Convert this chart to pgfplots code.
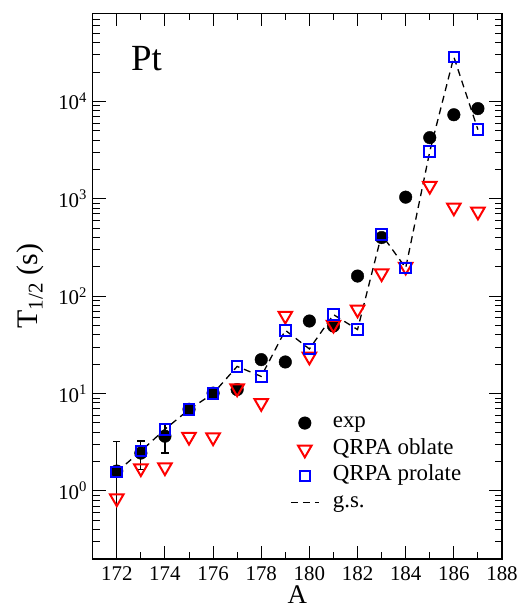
\documentclass[border=0pt]{standalone}
\usepackage{fontspec}
\setmainfont{Liberation Serif}
\usepackage{pgfplots}
\usepackage{pgfplotstable}
\pgfplotsset{compat=1.18}

% half-lives (s) against mass number A
\pgfplotstableread{
A T ep em
172 1.6 1.6 1.55
173 2.45 0.8 0.8
174 3.65 1.2 1.2
175 6.9 0 0
176 10.1 0 0
177 11 0 0
178 22.3 0 0
179 21.1 0 0
180 55.6 0 0
181 49.4 0 0
182 161 0 0
183 400 0 0
184 1040 0 0
185 4250 0 0
186 7300 0 0
187 8440 0 0
}\expdata

\pgfplotstableread{
A T
172 0.84
173 1.71
174 1.75
175 3.6
176 3.55
177 11.3
178 8.0
179 63
180 24
181 51
182 73
183 172
184 201
185 1360
186 815
187 740
}\oblate

\pgfplotstableread{
A T
172 1.57
173 2.56
174 4.3
175 6.85
176 10
177 19
178 15
179 44.7
180 28.7
181 64.7
182 45.4
183 429
184 195
185 3060
186 28600
187 5130
}\prolate

\pgfplotsset{
  myleg/.style={legend image code/.code={%
    \path[draw=none, fill=none] (0bp,-5bp) rectangle (42bp,5bp);
    \draw[mark repeat=2,mark phase=2,##1] plot coordinates {(0bp,0bp)(14bp,0bp)(28bp,0bp)};}},
}

\begin{document}
\begin{tikzpicture}
\begin{axis}[
  scale only axis, width=409.3bp, height=545.5bp,
  ymode=log,
  xmin=171, xmax=188, ymin=0.2, ymax=8e4,
  xtick={172,174,176,178,180,182,184,186,188},
  xticklabels={172,174,176,178,180,182,184,186,188},
  minor x tick num=1,
  ytick={1,10,100,1000,10000},
  yticklabels={10\textsuperscript{0},10\textsuperscript{1},10\textsuperscript{2},10\textsuperscript{3},10\textsuperscript{4}},
  minor ytick={0.2,0.3,0.4,0.5,0.6,0.7,0.8,0.9,2,3,4,5,6,7,8,9,20,30,40,50,60,70,80,90,200,300,400,500,600,700,800,900,2000,3000,4000,5000,6000,7000,8000,9000,20000,30000,40000,50000,60000,70000,80000},
  major tick length=13bp, minor tick length=7bp,
  every tick/.style={line width=1bp, black},
  axis line style={line width=1.3bp},
  tick label style={font=\fontsize{21}{25}\selectfont},
  xticklabel style={inner sep=0pt, yshift=-7.5bp},
  yticklabel style={inner sep=0pt, xshift=-5.5bp},
  xlabel={A},
  ylabel={T\textsubscript{1/2} (s)},
  xlabel style={font=\fontsize{27}{32}\selectfont, at={(rel axis cs:0.5,-0.0825)}, anchor=south, inner sep=0pt},
  ylabel style={font=\fontsize{30}{36}\selectfont, at={(rel axis cs:-0.153,0.5)}, anchor=center},
  legend style={draw=none, fill=none, inner sep=0pt,
    at={(rel axis cs:0.482,0.267)}, anchor=north west,
    font=\fontsize{23}{27}\selectfont, row sep=7.5bp,
    nodes={inner sep=0pt, text height=14bp, text depth=5bp}},
  legend cell align=left,
]
\addplot[only marks, mark=*, mark size=6.3bp, black, myleg,
  error bars/.cd, y dir=both, y explicit,
  error bar style={line width=1.2bp, black},
  error mark options={rotate=90, mark size=3.7bp, line width=1.2bp, black}]
  table[x=A, y=T, y error plus=ep, y error minus=em] {\expdata};
\addplot[only marks, red, mark=triangle, mark size=7.8bp, line width=2bp,
  mark options={rotate=180, solid}, myleg]
  table[x=A, y=T] {\oblate};
\addplot[only marks, blue, mark=square, mark size=5.3bp, line width=2bp,
  mark options={solid}, myleg]
  table[x=A, y=T] {\prolate};
\addplot[black, line width=1.3bp, dash pattern=on 7bp off 5bp, mark=none, myleg]
  table[x=A, y=T] {\prolate};
\legend{exp, QRPA oblate, QRPA prolate, g.s.}
\node[anchor=base west, font=\fontsize{37}{44}\selectfont] at (rel axis cs:0.0855,0.896) {Pt};
\end{axis}
\pgfresetboundingbox
\path ([xshift=-92.7bp,yshift=-52bp]current axis.south west) rectangle ([xshift=27bp,yshift=13.5bp]current axis.north east);
\end{tikzpicture}
\end{document}
